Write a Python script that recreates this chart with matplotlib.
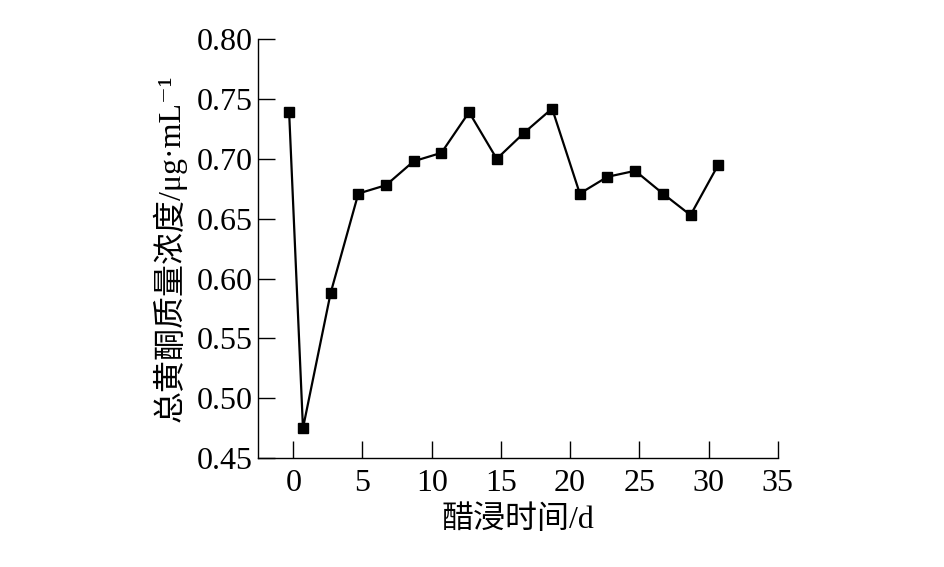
import matplotlib
matplotlib.use("Agg")
import matplotlib.pyplot as plt

# 醋浸时间 (d) 与总黄酮质量浓度 (μg/mL)
days = [-0.3, 0.7, 2.7, 4.7, 6.7, 8.7, 10.7, 12.7, 14.7, 16.7, 18.7,
        20.7, 22.7, 24.7, 26.7, 28.7, 30.7]
flavonoid = [0.739, 0.475, 0.588, 0.671, 0.678, 0.698, 0.705, 0.739, 0.700,
             0.722, 0.742, 0.671, 0.685, 0.690, 0.671, 0.653, 0.695]

x_ticks = [0, 5, 10, 15, 20, 25, 30, 35]
y_ticks = [0.45, 0.50, 0.55, 0.60, 0.65, 0.70, 0.75, 0.80]

plt.rcParams['font.family'] = ['Liberation Serif', 'Noto Sans CJK SC', 'DejaVu Serif']

fig = plt.figure(figsize=(9.45, 5.67), dpi=100)
ax = fig.add_axes([0.273, 0.192, 0.550, 0.739])

ax.plot(days, flavonoid, color='black', linewidth=1.6,
        marker='s', markersize=6.5, markerfacecolor='black', markeredgecolor='black')

ax.set_xlim(-2.55, 35)
ax.set_ylim(0.45, 0.80)
ax.set_xticks(x_ticks)
ax.set_yticks(y_ticks)
ax.set_yticklabels([f"{v:.2f}" for v in y_ticks])

ax.spines['top'].set_visible(False)
ax.spines['right'].set_visible(False)
for s in ['left', 'bottom']:
    ax.spines[s].set_linewidth(1.0)

ax.tick_params(axis='both', direction='in', length=12, width=1.0, labelsize=23)
ax.tick_params(axis='x', pad=8)
ax.tick_params(axis='y', pad=4)

ax.set_xlabel("醋浸时间/d", fontsize=23, labelpad=5)
ax.set_ylabel("总黄酮质量浓度/μg·mL⁻¹", fontsize=23, labelpad=7)

fig.savefig("out.png", dpi=100)
